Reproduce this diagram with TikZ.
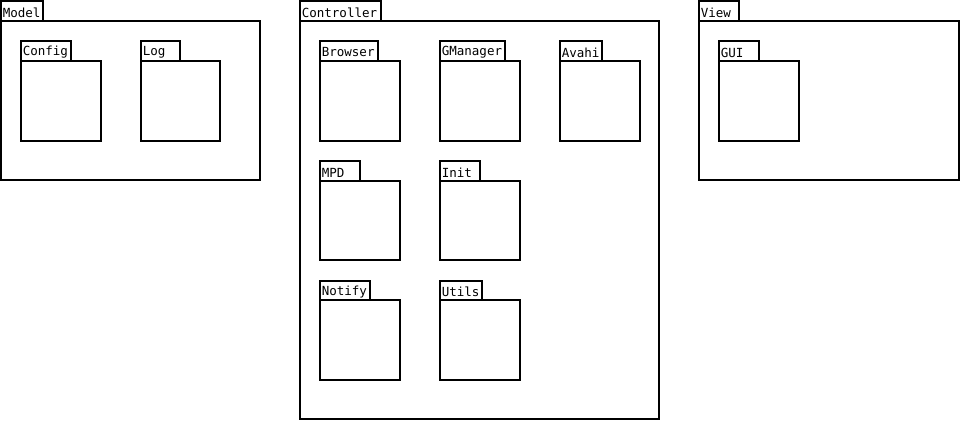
\documentclass[tikz,border=0pt]{standalone}
\usepackage{fontspec}
\setmonofont{DejaVu Sans Mono}
\begin{document}
\begin{tikzpicture}[x=0.75pt,y=-0.75pt,
  pkgline/.style={draw=black,line width=1.4pt,fill=white},
  pkglabel/.style={anchor=west,inner sep=0pt,font=\ttfamily\fontsize{9.4pt}{10pt}\selectfont}]
\useasboundingbox (0,0) rectangle (961,422);
% #1 name, #2 x, #3 y, #4 tab width, #5 tab height, #6 body width, #7 body height, #8 label
\newcommand\pkgbox[8]{%
  \draw[pkgline] (#2,#3) rectangle ++(#4,#5);
  \draw[pkgline] (#2,#3+#5) rectangle ++(#6,#7);
  \node[pkglabel] (#1) at (#2+1.5,#3+#5/2+1.5) {#8};
}
% Model
\pkgbox{model}{1}{1}{42}{20}{259}{159}{Model}
\pkgbox{config}{21}{41}{50}{20}{80}{80}{Config}
\pkgbox{log}{141}{41}{39}{20}{79}{80}{Log}
% Controller
\pkgbox{controller}{300}{1}{81}{20}{359}{398}{Controller}
\pkgbox{browser}{320}{41}{58}{20}{80}{80}{Browser}
\pkgbox{gmanager}{440}{41}{65}{20}{80}{80}{GManager}
\pkgbox{avahi}{560}{41}{42}{20}{80}{80}{Avahi}
\pkgbox{mpd}{320}{161}{40}{20}{80}{79}{MPD}
\pkgbox{init}{440}{161}{40}{20}{80}{79}{Init}
\pkgbox{notify}{320}{281}{50}{19}{80}{80}{Notify}
\pkgbox{utils}{440}{281}{42}{19}{80}{80}{Utils}
% View
\pkgbox{view}{699}{1}{40}{20}{260}{159}{View}
\pkgbox{gui}{719}{41}{40}{20}{80}{80}{GUI}
\end{tikzpicture}
\end{document}
